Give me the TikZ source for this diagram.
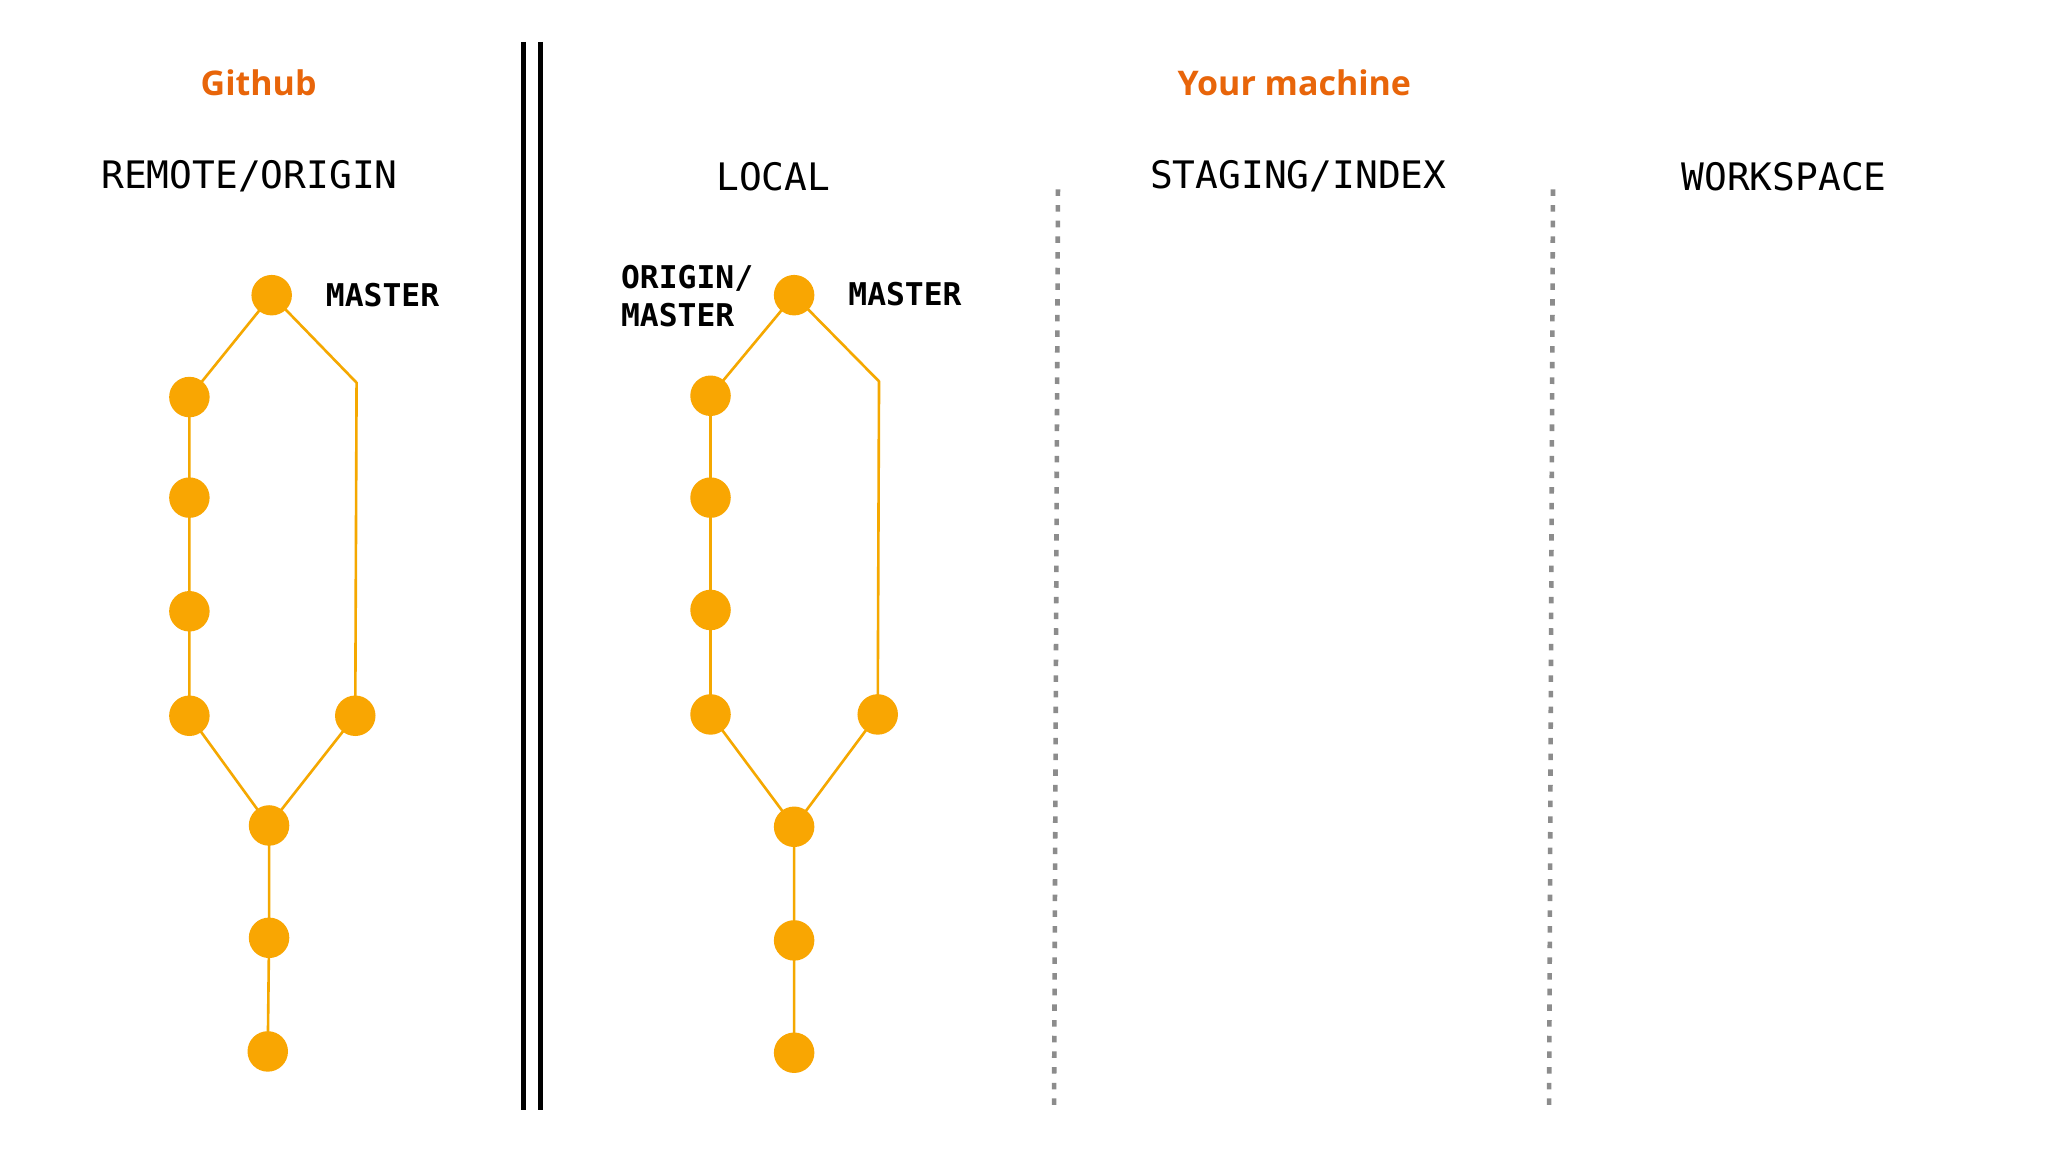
\documentclass[tikz,border=0pt]{standalone}
\usepackage{fontspec}
\setmainfont{Open Sans}
\setmonofont{DejaVu Sans Mono}
\begin{document}
\begin{tikzpicture}[x=1pt,y=-1pt,
  commit/.style={circle,fill=cfill,minimum size=31pt,inner sep=0pt},
  edge/.style={draw=cline,line width=2pt},
  head/.style={font=\fontsize{29}{32}\selectfont\ttfamily},
  lab/.style={font=\fontsize{24}{28}\selectfont\ttfamily\bfseries,align=left},
  title/.style={font=\fontsize{26}{30}\selectfont\bfseries,text=ctitle},
  divider/.style={draw=gray!90,line width=3.5pt,dash pattern=on 5pt off 7pt}]
\definecolor{cfill}{HTML}{F9A602}
\definecolor{cline}{HTML}{F5A800}
\definecolor{ctitle}{HTML}{E8650A}
\useasboundingbox[fill=white] (0,0) rectangle (1568,882);
% titles
\node[title] (gh) at (198,63) {Github};
\node[title] (ym) at (991,63) {Your machine};
\node[head] (h1) at (191,135) {REMOTE/ORIGIN};
\node[head] (h2) at (592,135) {LOCAL};
\node[head] (h3) at (994,135) {STAGING/INDEX};
\node[head] (h4) at (1366,135) {WORKSPACE};
% separators
\coordinate (s1a) at (401,32); \coordinate (s1b) at (401,850);
\coordinate (s2a) at (414,32); \coordinate (s2b) at (414,850);
\draw[line width=4pt] (s1a) -- (s1b);
\draw[line width=4pt] (s2a) -- (s2b);
\coordinate (d1a) at (810,145); \coordinate (d1b) at (807,850);
\coordinate (d2a) at (1189,145); \coordinate (d2b) at (1186,850);
\draw[divider] (d1a) -- (d1b);
\draw[divider] (d2a) -- (d2b);
% remote graph
\coordinate (rb) at (273,293);
\coordinate (lb) at (673,292);
\foreach \n/\x/\y in {rt/208/226,r1/145/304,r2/145/381,r3/145/468,r4/145/548,rr/272/548,rm/206/632,r5/206/718,r6/205/805,
  lt/608/226,l1/544/303,l2/544/381,l3/544/467,l4/544/547,lr/672/547,lm/608/633,l5/608/720,l6/608/806}
  \coordinate (\n) at (\x,\y);
\draw[edge] (rt)--(r1)--(r2)--(r3)--(r4)--(rm)--(r5)--(r6);
\draw[edge] (rt)--(rb)--(rr)--(rm);
\draw[edge] (lt)--(l1)--(l2)--(l3)--(l4)--(lm)--(l5)--(l6);
\draw[edge] (lt)--(lb)--(lr)--(lm);
\foreach \n in {rt,r1,r2,r3,r4,rr,rm,r5,r6,lt,l1,l2,l3,l4,lr,lm,l5,l6}
  \node[commit] (c\n) at (\n) {};
\node[lab,anchor=west] (m1) at (246,226) {MASTER};
\node[lab,anchor=west] (m2) at (646,225) {MASTER};
\node[lab,anchor=west,font=\fontsize{24}{29}\selectfont\ttfamily\bfseries] (om) at (472,227) {ORIGIN/\\MASTER};
\end{tikzpicture}
\end{document}
